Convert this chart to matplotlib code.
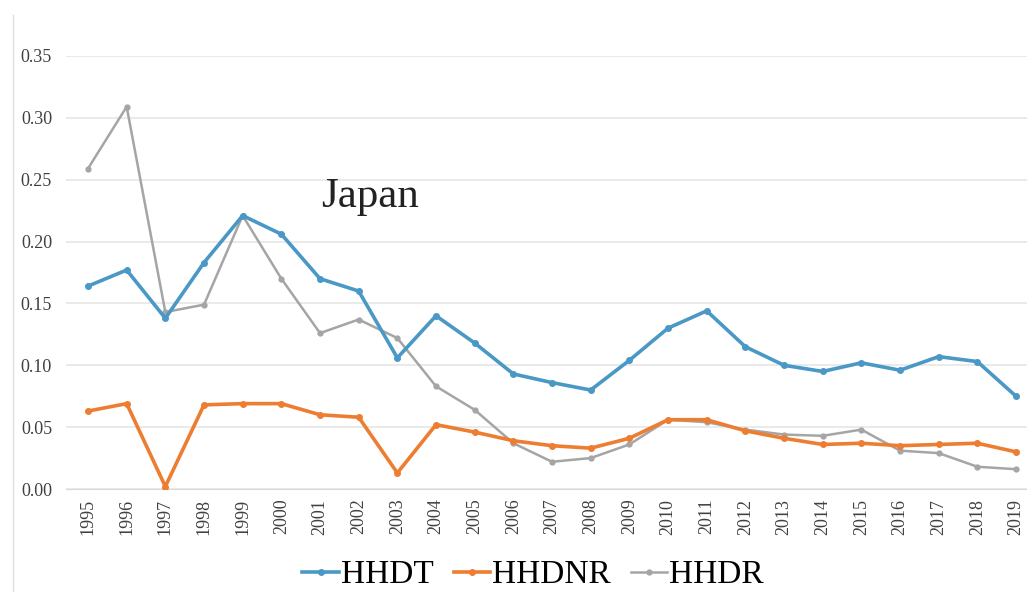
import matplotlib
matplotlib.use("Agg")
import matplotlib.pyplot as plt
from matplotlib.lines import Line2D

years = [str(y) for y in range(1995, 2020)]
hhdt = [0.164, 0.177, 0.138, 0.183, 0.221, 0.206, 0.170, 0.160, 0.106, 0.140,
        0.118, 0.093, 0.086, 0.080, 0.104, 0.130, 0.144, 0.115, 0.100, 0.095,
        0.102, 0.096, 0.107, 0.103, 0.075]
hhdnr = [0.063, 0.069, 0.002, 0.068, 0.069, 0.069, 0.060, 0.058, 0.013, 0.052,
         0.046, 0.039, 0.035, 0.033, 0.041, 0.056, 0.056, 0.047, 0.041, 0.036,
         0.037, 0.035, 0.036, 0.037, 0.030]
hhdr = [0.259, 0.309, 0.143, 0.149, 0.221, 0.170, 0.126, 0.137, 0.122, 0.083,
        0.064, 0.037, 0.022, 0.025, 0.036, 0.056, 0.054, 0.048, 0.044, 0.043,
        0.048, 0.031, 0.029, 0.018, 0.016]
yticks = [0.00, 0.05, 0.10, 0.15, 0.20, 0.25, 0.30, 0.35]

W, H = 1027, 592
fig = plt.figure(figsize=(W / 100, H / 100), dpi=100)
ax = fig.add_axes([66 / W, (H - 489) / H, (1027 - 66) / W, (489 - 56) / H])

serif = ["Liberation Serif", "DejaVu Serif"]
x = list(range(len(years)))
ax.plot(x, hhdt, color="#4A98C6", lw=2.6, marker="o", ms=4, label="HHDT", zorder=3)
ax.plot(x, hhdnr, color="#ED7D31", lw=2.6, marker="o", ms=4, label="HHDNR", zorder=3)
ax.plot(x, hhdr, color="#A5A5A5", lw=1.8, marker="o", ms=3.5, label="HHDR", zorder=2)

ax.set_xlim(-0.569, 24.284)
ax.set_ylim(0, 0.35)
ax.set_yticks(yticks)
ax.set_yticklabels([f"{v:.2f}" for v in yticks], family=serif, fontsize=13, color="#404040")
ax.set_xticks(x)
ax.set_xticklabels(years, rotation=90, family=serif, fontsize=13, color="#404040")
ax.tick_params(axis="both", length=0)
ax.tick_params(axis="y", pad=10)
ax.tick_params(axis="x", pad=7)
ax.grid(axis="y", color="#E6E6E6", lw=1.2)
ax.set_axisbelow(True)
for s in ["top", "right", "left"]:
    ax.spines[s].set_visible(False)
ax.spines["bottom"].set_color("#D9D9D9")

fig.text(321 / W, (H - 207) / H, "Japan", family=serif, fontsize=31, color="#222222")

fig.legend(loc="center", bbox_to_anchor=(533 / W, (H - 575) / H), ncol=3, frameon=False,
           prop={"family": serif, "size": 24}, handlelength=1.1, columnspacing=0.6,
           handletextpad=0.05)

fig.add_artist(Line2D([13 / W, 13 / W], [0, (H - 15) / H], transform=fig.transFigure,
                      color="#E0E0E0", lw=1))

fig.savefig("out.png", dpi=100)
